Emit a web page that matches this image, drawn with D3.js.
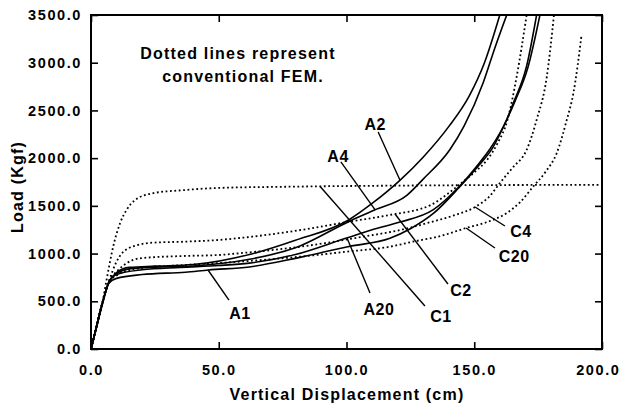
<!DOCTYPE html>
<html>
<head>
<meta charset="utf-8">
<script src="https://cdn.jsdelivr.net/npm/d3@7"></script>
<style>
	body { margin: 0; background: #fff; }
	text { font-family: "Liberation Sans", Arial, sans-serif; font-weight: bold; fill: #000; }
	.axis-title { font-size: 16px; letter-spacing: 1.2px; }
	.note { font-size: 16px; letter-spacing: 1.2px; }
	.curve-label { font-size: 16px; letter-spacing: 0.5px; }
	.solid { fill: none; stroke: #000; stroke-width: 1.6; }
	.dotted { fill: none; stroke: #000; stroke-width: 1.8; stroke-dasharray: 1.8, 2.6; }
	.leader { stroke: #000; stroke-width: 1.4; }
</style>
</head>
<body>
<svg></svg>
<script>
// load (Kgf) against vertical displacement (cm)
var seriesA1 = [[0,0],[2,210],[4.5,470],[7,690],[10,740],[20,780],[37,805],[46,828],[62,860],[80,950],[101,1075],[117,1160],[125,1260],[134,1420],[144,1690],[152,1930],[157,2100],[162.7,2400],[166,2600],[171,2950],[175.7,3500]];
var seriesA2 = [[0,0],[2,220],[4.5,490],[7,700],[10,800],[15,855],[25,868],[40,885],[62,990],[80,1140],[101,1355],[110,1525],[121,1770],[130,2010],[140,2330],[148,2650],[154,3000],[160,3500]];
var seriesA4 = [[0,0],[2,220],[4.5,490],[7,700],[10,790],[15,840],[25,858],[40,870],[62,940],[80,1060],[101,1337],[111,1457],[123.6,1610],[130,1780],[140.5,2090],[146,2335],[153.5,2790],[158,3150],[162.7,3500]];
var seriesA20 = [[0,0],[2,215],[4.5,480],[7,700],[10,780],[20,830],[35,855],[50,875],[62,900],[80,990],[100,1163],[110,1250],[121,1330],[134,1460],[144,1700],[152,1950],[156,2090],[162.7,2405],[165,2560],[170.5,2965],[174.4,3500]];
var seriesC1 = [[0,0],[2,220],[4.5,490],[6.1,725],[8.7,1075],[11.4,1320],[14,1460],[17.2,1560],[23.7,1630],[36.8,1666],[50,1688],[76,1700],[90,1705],[120,1712],[160,1718],[200,1720]];
var seriesC2 = [[0,0],[2,220],[4.5,490],[7,710],[10,915],[14.6,1055],[24,1114],[37,1125],[50,1143],[63,1177],[78,1230],[101,1334],[117,1405],[133,1509],[139,1614],[144,1719],[150,1850],[155,1981],[159,2150],[163,2400],[166.6,2854],[170.5,3500]];
var seriesC4 = [[0,0],[2,220],[4.5,490],[7,705],[10.7,828],[14,900],[19,950],[24,961],[37,975],[50,985],[58,1003],[82,1072],[106.6,1177],[121,1247],[133,1330],[142,1400],[150.3,1488],[156,1600],[160,1738],[165,1900],[170.5,2086],[174.4,2400],[178.4,2854],[181.2,3500]];
var seriesC20 = [[0,0],[2,220],[4.5,490],[7,700],[10,770],[14,820],[20,850],[37,880],[58,915],[82,968],[100,1020],[117,1072],[126,1125],[137,1185],[146.8,1268],[155,1330],[162.7,1425],[168,1540],[173,1700],[178,1860],[182.3,2054],[186.2,2400],[188.8,2680],[192,3291]];

var xTicks = [0, 50, 100, 150, 200];
var yTicks = [0, 500, 1000, 1500, 2000, 2500, 3000, 3500];

// curve names, with label point and leader end in data units
var labelNames = ["A1", "A2", "A4", "A20", "C1", "C2", "C4", "C20"];
var labelAt = [[58.3, 377], [111.2, 2353], [96.7, 2022], [112.7, 419], [137, 346], [144.8, 618], [168.3, 1237], [165.6, 975]];
var leaderFrom = [[54, 513], [112.4, 2274], [97.8, 1960], [109.2, 587], [130.7, 451], [139.7, 681], [162, 1289], [158.1, 1058]];
var leaderTo = [[45.8, 828], [120.9, 1771], [111.2, 1457], [100.2, 1163], [89.6, 1705], [119, 1415], [150.3, 1488], [146.8, 1268]];

var svgWidth = 623, svgHeight = 408;
var plotLeft = 91, plotRight = 602, plotTop = 15, plotBottom = 349;

var svg = d3.select("svg")
	.attr("width", svgWidth)
	.attr("height", svgHeight);

var xScale = d3.scaleLinear().domain([0, 200]).range([plotLeft, plotRight]);
var yScale = d3.scaleLinear().domain([0, 3500]).range([plotBottom, plotTop]);

setAxes();
setCurves();
setLabels();
setTitles();

// axes with inward ticks on all four sides
function setAxes() {
	var fmt = d3.format(".1f");

	var xAxis = svg.append("g")
		.attr("transform", "translate(0," + plotBottom + ")")
		.call(d3.axisBottom(xScale).tickValues(xTicks).tickFormat(fmt)
			.tickSizeInner(-7).tickSizeOuter(0).tickPadding(16));

	svg.append("g")
		.attr("transform", "translate(0," + plotTop + ")")
		.call(d3.axisTop(xScale).tickValues(xTicks).tickFormat("")
			.tickSizeInner(-7).tickSizeOuter(0));

	svg.append("g")
		.attr("transform", "translate(" + plotLeft + ",0)")
		.call(d3.axisLeft(yScale).tickValues(yTicks).tickFormat(fmt)
			.tickSizeInner(-7).tickSizeOuter(0).tickPadding(9));

	svg.append("g")
		.attr("transform", "translate(" + plotRight + ",0)")
		.call(d3.axisRight(yScale).tickValues(yTicks).tickFormat("")
			.tickSizeInner(-7).tickSizeOuter(0));

	svg.selectAll(".domain").remove();
	svg.selectAll(".tick line").attr("stroke", "#000").attr("stroke-width", 1.6);
	svg.selectAll(".tick text")
		.attr("fill", "#000")
		.style("font-family", "'Liberation Sans', Arial, sans-serif")
		.style("font-weight", "bold")
		.style("font-size", "14.5px")
		.style("letter-spacing", "1.6px");

	// keep the last x label inside the page
	xAxis.selectAll(".tick text")
		.filter(function(d) { return d === 200; })
		.attr("text-anchor", "end")
		.attr("x", 620 - plotRight);

	svg.append("rect")
		.attr("x", plotLeft)
		.attr("y", plotTop)
		.attr("width", plotRight - plotLeft)
		.attr("height", plotBottom - plotTop)
		.attr("fill", "none")
		.attr("stroke", "#000")
		.attr("stroke-width", 2);
}

// solid and dotted load curves
function setCurves() {
	svg.append("clipPath")
		.attr("id", "plot-clip")
		.append("rect")
		.attr("x", plotLeft)
		.attr("y", plotTop)
		.attr("width", plotRight - plotLeft)
		.attr("height", plotBottom - plotTop);

	var line = d3.line()
		.x(function(d) { return xScale(d[0]); })
		.y(function(d) { return yScale(d[1]); })
		.curve(d3.curveMonotoneX);

	var g = svg.append("g").attr("clip-path", "url(#plot-clip)");

	[seriesC1, seriesC2, seriesC4, seriesC20].forEach(function(s) {
		g.append("path").attr("class", "dotted").attr("d", line(s));
	});
	[seriesA1, seriesA2, seriesA4, seriesA20].forEach(function(s) {
		g.append("path").attr("class", "solid").attr("d", line(s));
	});
}

// curve names with leader lines
function setLabels() {
	svg.selectAll("line.leader")
		.data(labelNames)
		.enter()
		.append("line")
		.attr("class", "leader")
		.attr("x1", function(d, i) { return xScale(leaderFrom[i][0]); })
		.attr("y1", function(d, i) { return yScale(leaderFrom[i][1]); })
		.attr("x2", function(d, i) { return xScale(leaderTo[i][0]); })
		.attr("y2", function(d, i) { return yScale(leaderTo[i][1]); });

	svg.selectAll("text.curve-label")
		.data(labelNames)
		.enter()
		.append("text")
		.attr("class", "curve-label")
		.attr("x", function(d, i) { return xScale(labelAt[i][0]); })
		.attr("y", function(d, i) { return yScale(labelAt[i][1]); })
		.attr("text-anchor", "middle")
		.attr("dy", "0.36em")
		.text(function(d) { return d; });
}

// axis titles and the note
function setTitles() {
	svg.append("text")
		.attr("class", "axis-title")
		.attr("x", 347)
		.attr("y", 400)
		.attr("text-anchor", "middle")
		.text("Vertical Displacement (cm)");

	svg.append("text")
		.attr("class", "axis-title")
		.attr("transform", "translate(23,187) rotate(-90)")
		.attr("text-anchor", "middle")
		.text("Load (Kgf)");

	svg.append("text")
		.attr("class", "note")
		.attr("x", 238)
		.attr("y", 59)
		.attr("text-anchor", "middle")
		.text("Dotted lines represent");

	svg.append("text")
		.attr("class", "note")
		.attr("x", 243)
		.attr("y", 82)
		.attr("text-anchor", "middle")
		.text("conventional FEM.");
}
</script>
</body>
</html>
